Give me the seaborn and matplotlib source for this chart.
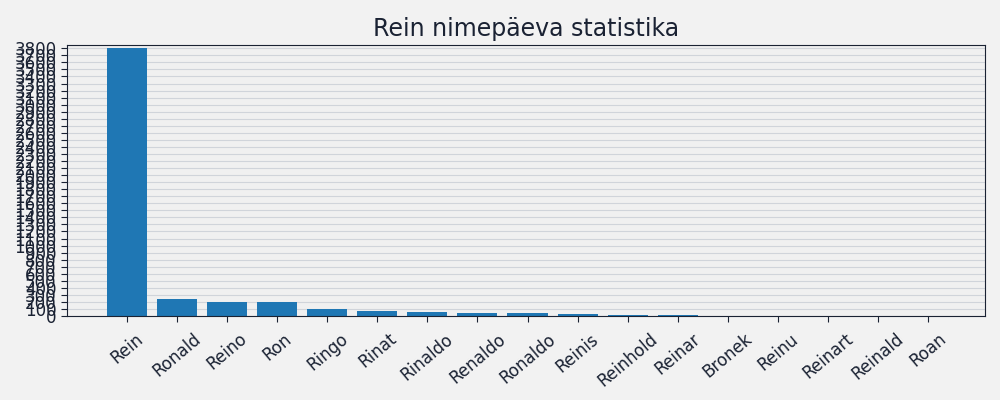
import matplotlib
matplotlib.use("Agg")
import matplotlib.pyplot as plt
import seaborn as sns
import numpy as np

names = ["Rein","Ronald","Reino","Ron","Ringo","Rinat","Rinaldo","Renaldo","Ronaldo","Reinis","Reinhold","Reinar","Bronek","Reinu","Reinart","Reinald","Roan"]
counts = [3810,245,205,205,100,75,60,48,46,32,18,17,2,2,1,1,1]

sns.set_style("whitegrid")
fig, ax = plt.subplots(figsize=(10,4), dpi=100)
fig.patch.set_facecolor("#f2f2f2")
ax.set_facecolor("#f0f0f0")
sns.barplot(x=names, y=counts, color="#1f77b4", saturation=1, width=0.8, ax=ax, edgecolor="none", linewidth=0)
ax.set_yticks(np.arange(0, 3900, 100))
ax.set_ylim(0, 3850)
ax.grid(axis="y", color="#d0d4da", linewidth=0.8)
ax.grid(axis="x", visible=False)
for s in ax.spines.values():
    s.set_color("#1a2233"); s.set_linewidth(0.8)
ax.tick_params(axis="both", colors="#1a2233", labelsize=12, length=4, left=True, bottom=True)
ax.tick_params(axis="x", rotation=40, pad=6)
for lab in ax.get_xticklabels():
    lab.set_ha("center")
ax.set_title("Rein nimepäeva statistika", fontsize=17, color="#1a2233")
ax.set_xlim(-1.2, 17.14)
plt.subplots_adjust(left=0.067, right=0.985, top=0.888, bottom=0.21)
fig.savefig("out.png")
